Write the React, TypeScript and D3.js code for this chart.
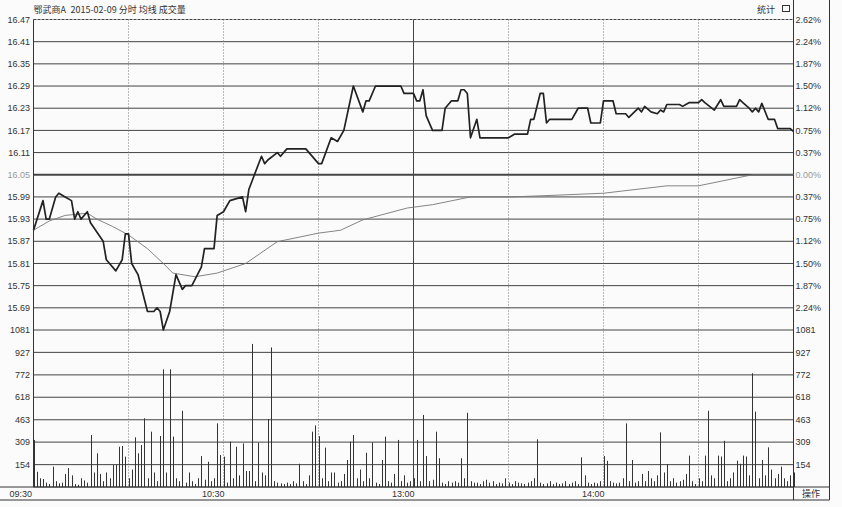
import React from "react";
import * as d3 from "d3";

// ---------- data ----------
const stockName = "鄂武商A";
const stockSubtitle = "2015-02-09 分时 均线 成交量";
const prevClose = 16.05;
const priceTicks = [16.47, 16.41, 16.35, 16.29, 16.23, 16.17, 16.11, 16.05, 15.99, 15.93, 15.87, 15.81, 15.75, 15.69];
const volumeTicks = [1081, 927, 772, 618, 463, 309, 154];
const timeLabels = ["09:30", "10:30", "13:00", "14:00"];
const timeLabelMinutes = [0, 60, 120, 180];

// price line (minute index, price)
const priceMinutes = [0, 3, 4, 5, 7, 8, 10, 12, 13, 14, 15, 17, 18, 22, 23, 26, 28, 29, 30, 31, 33, 36, 38, 39, 40, 41, 43, 45, 47, 48, 50, 53, 54, 57, 58, 60, 62, 66, 67, 68, 72, 73, 74, 77, 78, 80, 86, 90, 91, 94, 96, 98, 101, 104, 105, 106, 108, 116, 117, 120, 121, 122, 123, 124, 126, 129, 130, 132, 134, 135, 136, 137, 138, 140, 141, 150, 152, 156, 157, 158, 160, 161, 162, 163, 170, 172, 175, 176, 179, 180, 183, 184, 187, 188, 191, 192, 193, 195, 197, 198, 199, 200, 204, 205, 206, 207, 210, 211, 212, 215, 217, 218, 222, 223, 224, 226, 227, 228, 229, 230, 232, 234, 235, 239, 240];
const priceValues = [15.90, 15.98, 15.93, 15.93, 15.99, 16.00, 15.99, 15.98, 15.93, 15.95, 15.93, 15.95, 15.92, 15.87, 15.82, 15.79, 15.82, 15.89, 15.89, 15.81, 15.78, 15.68, 15.68, 15.69, 15.68, 15.63, 15.68, 15.78, 15.74, 15.75, 15.75, 15.80, 15.85, 15.85, 15.94, 15.95, 15.98, 15.99, 15.95, 16.01, 16.10, 16.08, 16.09, 16.11, 16.10, 16.12, 16.12, 16.08, 16.08, 16.15, 16.14, 16.17, 16.29, 16.22, 16.25, 16.25, 16.29, 16.29, 16.27, 16.27, 16.25, 16.25, 16.28, 16.21, 16.17, 16.17, 16.23, 16.25, 16.25, 16.28, 16.28, 16.27, 16.15, 16.20, 16.15, 16.15, 16.16, 16.16, 16.20, 16.20, 16.27, 16.27, 16.19, 16.20, 16.20, 16.23, 16.23, 16.19, 16.19, 16.25, 16.25, 16.215, 16.215, 16.205, 16.23, 16.22, 16.235, 16.22, 16.215, 16.225, 16.22, 16.24, 16.24, 16.235, 16.24, 16.245, 16.245, 16.253, 16.245, 16.225, 16.253, 16.235, 16.235, 16.253, 16.245, 16.23, 16.22, 16.23, 16.22, 16.243, 16.20, 16.20, 16.175, 16.175, 16.167];

// average price line (minute index, price)
const avgMinutes = [0, 5, 10, 17, 20, 25, 30, 36, 41, 44, 51, 58, 67, 77, 90, 97, 104, 118, 126, 138, 151, 166, 180, 200, 210, 227, 240];
const avgValues = [15.90, 15.925, 15.94, 15.946, 15.93, 15.91, 15.887, 15.85, 15.81, 15.784, 15.774, 15.784, 15.81, 15.869, 15.892, 15.90, 15.928, 15.96, 15.969, 15.99, 15.99, 15.995, 16.00, 16.02, 16.02, 16.05, 16.05];

// per-minute volume (241 minutes)
const volumes = [
  324, 105, 60, 55, 30, 20, 140, 40, 25, 30,
  90, 130, 80, 20, 15, 60, 45, 30, 358, 100,
  232, 90, 40, 100, 60, 151, 151, 277, 282, 209,
  60, 120, 342, 232, 289, 473, 60, 381, 100, 40,
  351, 810, 100, 810, 347, 60, 40, 525, 30, 100,
  40, 20, 60, 213, 50, 174, 40, 60, 438, 220,
  209, 30, 312, 60, 277, 80, 300, 110, 110, 985,
  40, 305, 100, 80, 468, 961, 40, 30, 25, 20,
  30, 20, 40, 25, 160, 40, 20, 80, 381, 424,
  350, 60, 271, 40, 100, 100, 30, 40, 90, 186,
  312, 358, 60, 120, 40, 236, 60, 307, 30, 20,
  186, 347, 40, 30, 90, 324, 40, 80, 30, 40,
  60, 324, 40, 496, 213, 40, 50, 381, 198, 30,
  20, 40, 30, 40, 30, 198, 60, 511, 40, 30,
  30, 20, 40, 50, 30, 40, 20, 30, 25, 60,
  30, 20, 40, 30, 25, 20, 30, 40, 60, 328,
  30, 20, 25, 40, 20, 30, 20, 25, 40, 20,
  30, 40, 20, 204, 80, 30, 20, 30, 25, 40,
  213, 180, 40, 30, 25, 30, 60, 438, 40, 186,
  30, 40, 90, 40, 110, 60, 40, 80, 376, 100,
  158, 40, 60, 30, 40, 50, 90, 216, 40, 20,
  60, 40, 216, 525, 80, 60, 216, 210, 318, 40,
  60, 100, 181, 160, 216, 210, 80, 783, 519, 60,
  186, 80, 273, 120, 60, 90, 140, 60, 40, 80,
  100,
];

// ---------- layout ----------
const W = 842;
const H = 507;
const L = 33.5;
const R = 793.5;
const FAR = 829.5;
const PT = 19.5;
const PB = 330;
const VB = 487;
const AXB = 500;

const x = d3.scaleLinear().domain([0, 240]).range([L, R]);
const yP = d3.scaleLinear().domain([15.63, 16.47]).range([PB, PT]);
const yV = d3.scaleLinear().domain([0, 1081]).range([VB, PB]);

const numFont = "'Liberation Sans', Arial, sans-serif";
const cjkFont = "'Noto Sans CJK SC', sans-serif";

export default function App() {
  const priceLine = d3
    .line<number>()
    .x((_, i) => x(priceMinutes[i]))
    .y((d) => yP(d))(priceValues);
  const avgLine = d3
    .line<number>()
    .x((_, i) => x(avgMinutes[i]))
    .y((d) => yP(d))(avgValues);

  const vLines = d3.range(1, 8).map((k) => k * 30);
  const volGrid = volumeTicks.concat([0]);

  return (
    <svg
      width={W}
      height={H}
      viewBox={`0 0 ${W} ${H}`}
      style={{ position: "absolute", left: 0, top: 0, background: "#fbfbfb" }}
    >
      <rect x={0} y={0} width={W} height={H} fill="#fbfbfb" />
      {/* title */}
      <text x={L} y={13} fontSize={9} fontFamily={cjkFont} fill="#333">
        {stockName}
      </text>
      <text x={L + 37} y={13} fontSize={9} fontFamily={cjkFont} fill="#333">
        {stockSubtitle}
      </text>
      <text x={757} y={13} fontSize={9} fontFamily={cjkFont} fill="#333">
        统计
      </text>
      <rect x={782.5} y={5.5} width={7} height={6} fill="none" stroke="#333" strokeWidth={1} />

      {/* price grid */}
      {priceTicks.map((p) => (
        <line
          key={"pg" + p}
          x1={L}
          x2={R}
          y1={yP(p)}
          y2={yP(p)}
          stroke="#444"
          strokeWidth={p === prevClose ? 2 : 1}
          strokeDasharray={p === priceTicks[0] ? "3,1" : undefined}
        />
      ))}
      {volGrid.map((v) => (
        <line key={"vg" + v} x1={L} x2={R} y1={yV(v)} y2={yV(v)} stroke="#444" strokeWidth={1} />
      ))}
      {/* vertical grid */}
      {vLines.map((m) => (
        <line
          key={"vl" + m}
          x1={x(m)}
          x2={x(m)}
          y1={PT}
          y2={VB}
          stroke={m === 120 ? "#444" : "#777"}
          strokeWidth={1}
          strokeDasharray={m === 120 ? undefined : "1,2"}
        />
      ))}
      {/* frame */}
      <line x1={L} x2={L} y1={PT} y2={VB} stroke="#333" />
      <line x1={R} x2={R} y1={0} y2={AXB} stroke="#333" />
      <line x1={FAR} x2={FAR} y1={0} y2={AXB} stroke="#333" />
      <line x1={0} x2={FAR} y1={VB} y2={VB} stroke="#333" />
      <line x1={0} x2={FAR} y1={AXB} y2={AXB} stroke="#333" />

      {/* volume bars */}
      {volumes.map((v, i) => (
        <line
          key={"vb" + i}
          x1={Math.round(x(i)) + 0.5}
          x2={Math.round(x(i)) + 0.5}
          y1={VB}
          y2={yV(v)}
          stroke="#333"
          strokeWidth={1}
        />
      ))}

      {/* lines */}
      <path d={avgLine || ""} fill="none" stroke="#777" strokeWidth={0.9} />
      <path d={priceLine || ""} fill="none" stroke="#222" strokeWidth={1.7} strokeLinejoin="round" />

      {/* left labels */}
      {priceTicks.map((p) => (
        <text
          key={"pl" + p}
          x={30}
          y={yP(p)}
          dy="0.35em"
          textAnchor="end"
          fontSize={9}
          fontFamily={numFont}
          fill={p === prevClose ? "#999" : "#333"}
        >
          {p.toFixed(2)}
        </text>
      ))}
      {volumeTicks.map((v) => (
        <text key={"vlab" + v} x={30} y={yV(v)} dy="0.35em" textAnchor="end" fontSize={9} fontFamily={numFont} fill="#333">
          {v}
        </text>
      ))}
      {/* right labels */}
      {priceTicks.map((p) => (
        <text
          key={"pr" + p}
          x={R + 2}
          y={yP(p)}
          dy="0.35em"
          fontSize={9}
          fontFamily={numFont}
          fill={p === prevClose ? "#999" : "#333"}
        >
          {((Math.abs(p - prevClose) / prevClose) * 100).toFixed(2) + "%"}
        </text>
      ))}
      {volumeTicks.map((v) => (
        <text key={"vr" + v} x={R + 2} y={yV(v)} dy="0.35em" fontSize={9} fontFamily={numFont} fill="#333">
          {v}
        </text>
      ))}
      {/* time labels */}
      {timeLabels.map((t, i) => (
        <text
          key={"t" + t}
          x={timeLabelMinutes[i] === 0 ? 32 : x(timeLabelMinutes[i]) + 1}
          y={497}
          textAnchor="end"
          fontSize={9}
          fontFamily={numFont}
          fill="#333"
        >
          {t}
        </text>
      ))}
      <text x={811} y={497} textAnchor="middle" fontSize={9} fontFamily={cjkFont} fill="#333">
        操作
      </text>
    </svg>
  );
}
